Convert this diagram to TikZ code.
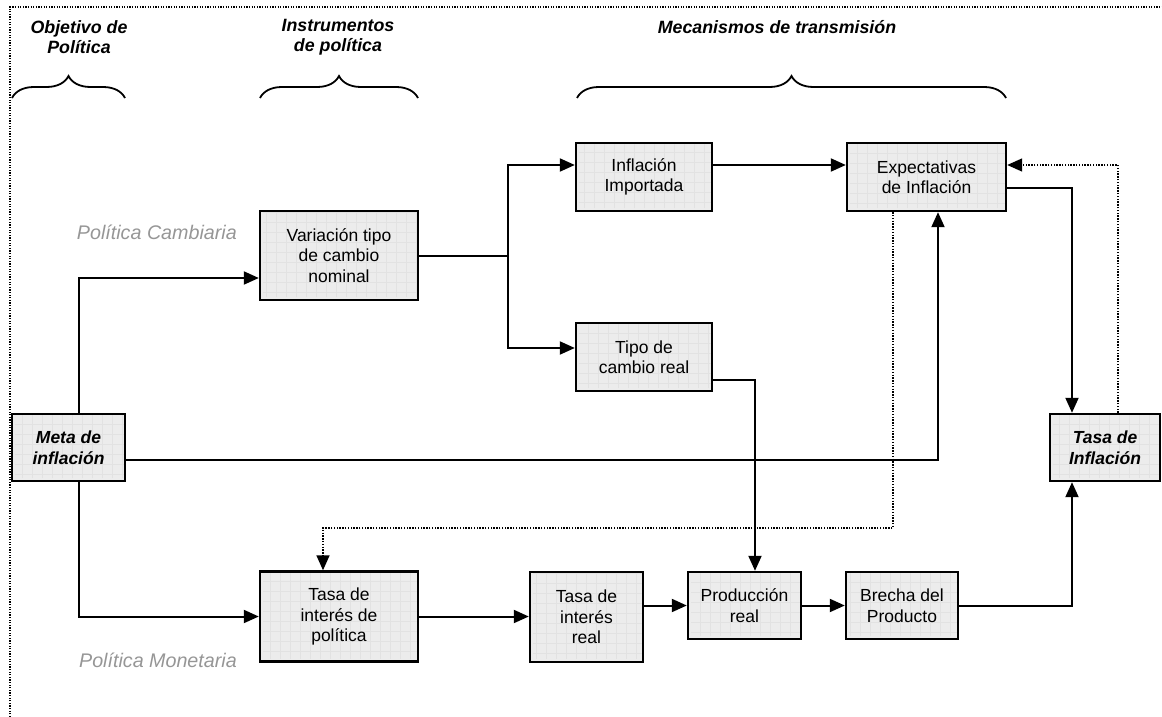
\documentclass[tikz,border=0pt]{standalone}
\usepackage{fontspec}
\setmainfont{Liberation Sans}
\usetikzlibrary{arrows.meta,decorations.pathreplacing}
\definecolor{boxfill}{RGB}{236,236,236}
\definecolor{gridc}{RGB}{226,226,226}
\definecolor{labgray}{RGB}{150,150,150}
\begin{document}
\begin{tikzpicture}[x=1pt,y=-1pt,
  box/.style={draw=black,line width=2.4pt,fill=boxfill,align=center,inner sep=0pt,
    font=\fontsize{17.5}{20.5}\selectfont,
    path picture={\draw[gridc,line width=0.6pt] ([shift={(3pt,3pt)}]path picture bounding box.south west) grid[step=10pt] (path picture bounding box.north east);}},
  bbox/.style={box,font=\fontsize{17.5}{20.5}\selectfont\bfseries\itshape},
  arr/.style={line width=2pt,-{Triangle[length=15pt,width=13pt]}},
  darr/.style={line width=1.5pt,dash pattern=on 1.4pt off 1.4pt,-{Triangle[length=15pt,width=13pt]}},
  hdr/.style={align=center,font=\fontsize{17.8}{20}\selectfont\bfseries\itshape,inner sep=0pt},
  glab/.style={text=labgray,font=\fontsize{19.7}{22}\selectfont\itshape,inner sep=0pt,anchor=east},
  brc/.style={line width=1.8pt,decorate,decoration={brace,amplitude=22pt}}]
\useasboundingbox (0,0) rectangle (1162,717);
% dotted frame
\draw[line width=1.3pt,dash pattern=on 1.3pt off 1.3pt] (10,717) -- (10,7) -- (1162,7);
% headers
\node[hdr] (h1) at (79,37) {Objetivo de\\Política};
\node[hdr] (h2) at (338,37) {Instrumentos\\de política};
\node[hdr] (h3) at (777,27) {Mecanismos de transmisión};
\draw[brc] (12,98) -- (125,98);
\draw[brc] (260,98) -- (418,98);
\draw[brc] (577,98) -- (1006,98);
% side labels
\node[glab] (pc) at (237,232) {Política Cambiaria};
\node[glab] (pm) at (237,660) {Política Monetaria};
% boxes
\node[bbox,minimum width=113pt,minimum height=67pt] (meta) at (68.5,447.5) {Meta de\\inflación};
\node[box,minimum width=158pt,minimum height=89pt] (var) at (339,255.5) {Variación tipo\\de cambio\\nominal};
\node[box,minimum width=136pt,minimum height=68pt] (infimp) at (644,177) {Inflación\\Importada};
\node[box,minimum width=159pt,minimum height=68pt] (expect) at (926.5,177) {Expectativas\\de Inflación};
\node[box,minimum width=136pt,minimum height=68pt] (tcr) at (644,357) {Tipo de\\cambio real};
\node[bbox,minimum width=110pt,minimum height=67pt] (tasainf) at (1105,447.5) {Tasa de\\Inflación};
\node[box,minimum width=158pt,minimum height=90pt] (tasapol) at (339,616.5) {Tasa de\\interés de\\política};
\node[box,minimum width=113pt,minimum height=90pt] (tasareal) at (586.5,617) {Tasa de\\interés\\real};
\node[box,minimum width=113pt,minimum height=67pt] (prod) at (744.5,605.5) {Producción\\real};
\node[box,minimum width=112pt,minimum height=67pt] (brecha) at (902,605.5) {Brecha del\\Producto};
% junction coordinates
\coordinate (split) at (508,255.5);
\coordinate (tcrx) at (755,380);
\coordinate (rx) at (1072,0);
\coordinate (dx) at (1118,0);
\coordinate (ey) at (893,528);
% connectors
\draw[arr] ([xshift=10.5pt]meta.north) |- ([yshift=-22.5pt]var.west);
\draw[arr] ([xshift=10.5pt]meta.south) |- (tasapol.west);
\draw[arr] ([yshift=-12pt]meta.east) -| ([xshift=11.5pt]expect.south);
\draw[line width=2pt] (var.east) -- (split);
\draw[arr] (split) |- ([yshift=12pt]infimp.west);
\draw[arr] (split) |- ([yshift=9pt]tcr.west);
\draw[arr] ([yshift=12pt]infimp.east) -- ([yshift=12pt]expect.west);
\draw[arr] ([yshift=-11pt]expect.east) -| (rx |- tasainf.north);
\draw[darr] (dx |- tasainf.north) |- ([yshift=12pt]expect.east);
\draw[darr] (expect.south -| ey) -- (ey) -| ([xshift=-16pt]tasapol.north);
\draw[arr] (tcr.east |- tcrx) -- (tcrx) -- (tcrx |- prod.north);
\draw[arr] (tasapol.east) -- (tasapol.east -| tasareal.west);
\draw[arr] (tasareal.east |- prod.west) -- (prod.west);
\draw[arr] (prod.east) -- (brecha.west);
\draw[arr] (brecha.east) -| (rx |- tasainf.south);
\end{tikzpicture}
\end{document}
